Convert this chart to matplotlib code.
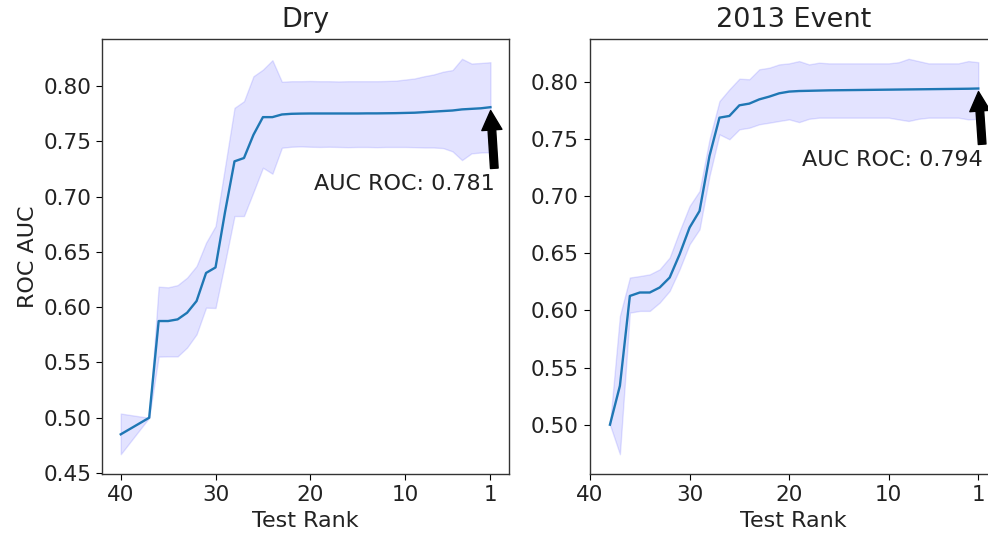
import numpy as np
import matplotlib
matplotlib.use("Agg")
import matplotlib.pyplot as plt

# Dry: mean ROC AUC per test rank, with lower / upper band
dry_rank = list(range(40, 0, -1))
dry_mean = [0.485, 0.490, 0.495, 0.500, 0.5875, 0.5875, 0.589, 0.595, 0.6056, 0.631,
            0.636, 0.686, 0.732, 0.735, 0.756, 0.772, 0.772, 0.7744, 0.7750, 0.7752,
            0.7753, 0.7753, 0.7753, 0.7753, 0.7753, 0.7753, 0.7754, 0.7754, 0.7755, 0.7756,
            0.7758, 0.7760, 0.7765, 0.7770, 0.7775, 0.7780, 0.7790, 0.7795, 0.7800, 0.781]
dry_low = [0.467, 0.478, 0.489, 0.500, 0.5553, 0.5555, 0.5555, 0.5635, 0.5755, 0.5996,
           0.5993, 0.6403, 0.6825, 0.6825, 0.7042, 0.7262, 0.7208, 0.7443, 0.7452, 0.7455,
           0.7452, 0.7450, 0.7452, 0.7450, 0.7448, 0.7450, 0.7450, 0.7448, 0.7450, 0.7450,
           0.7450, 0.7448, 0.7445, 0.7445, 0.7440, 0.7410, 0.7331, 0.7392, 0.7400, 0.7403]
dry_high = [0.5038, 0.5025, 0.5012, 0.500, 0.6186, 0.618, 0.620, 0.6268, 0.6373, 0.6584,
            0.6734, 0.7268, 0.7804, 0.7864, 0.809, 0.815, 0.8235, 0.804, 0.8045, 0.8045,
            0.8047, 0.8045, 0.8045, 0.8043, 0.8045, 0.8045, 0.8045, 0.8045, 0.8047, 0.8050,
            0.8060, 0.8070, 0.8090, 0.8106, 0.8131, 0.8146, 0.8248, 0.8205, 0.8210, 0.8217]

# 2013 Event
event_rank = list(range(38, 0, -1))
event_mean = [0.500, 0.534, 0.6126, 0.6156, 0.6156, 0.620, 0.6287, 0.649, 0.6724, 0.6869,
              0.735, 0.7685, 0.770, 0.7793, 0.7808, 0.7845, 0.7869, 0.7898, 0.7913, 0.7918,
              0.7920, 0.7922, 0.7924, 0.7925, 0.7926, 0.7927, 0.7928, 0.7929, 0.7930, 0.7931,
              0.7932, 0.7933, 0.7934, 0.7935, 0.7936, 0.7937, 0.7938, 0.794]
event_low = [0.500, 0.4742, 0.598, 0.5995, 0.5995, 0.6068, 0.617, 0.636, 0.6578, 0.6709,
             0.7175, 0.7539, 0.7496, 0.7583, 0.7597, 0.7627, 0.7641, 0.7656, 0.767, 0.7646,
             0.7675, 0.7685, 0.7685, 0.7685, 0.7685, 0.7685, 0.7685, 0.7685, 0.7685, 0.7670,
             0.7656, 0.7675, 0.7685, 0.7685, 0.7685, 0.7685, 0.7670, 0.7675]
event_high = [0.500, 0.5951, 0.6287, 0.630, 0.6315, 0.6359, 0.6462, 0.6694, 0.6913, 0.7044,
              0.7496, 0.783, 0.7933, 0.8026, 0.8021, 0.8108, 0.8122, 0.8151, 0.8160, 0.818,
              0.8151, 0.8166, 0.8160, 0.8160, 0.8160, 0.8160, 0.8160, 0.8160, 0.8160, 0.817,
              0.820, 0.818, 0.8160, 0.8160, 0.8160, 0.8160, 0.818, 0.817]

panels = [
    ("Dry", dry_rank, dry_mean, dry_low, dry_high),
    ("2013 Event", event_rank, event_mean, event_low, event_high),
]

plt.rcParams['axes.linewidth'] = 1.0
plt.rcParams['xtick.major.size'] = 4.5
plt.rcParams['ytick.major.size'] = 4.5
plt.rcParams['text.color'] = '#222222'
plt.rcParams['xtick.labelcolor'] = '#222222'
plt.rcParams['ytick.labelcolor'] = '#222222'
plt.rcParams['axes.labelcolor'] = '#222222'
plt.rcParams['axes.edgecolor'] = '#333333'

fig = plt.figure(figsize=(9.88, 5.38), dpi=100)
ax1 = fig.add_axes([0.1035, 0.119, 0.4116, 0.8085])
ax2 = fig.add_axes([0.5972, 0.119, 0.4116, 0.8085])

text_pos = [(0.55, 0.7111), (0.57, 0.7314)]

for ax, (title, rank, mean, low, high), tpos in zip([ax1, ax2], panels, text_pos):
    ax.fill_between(rank, low, high, color='b', alpha=0.11)
    ax.plot(rank, mean, color='tab:blue', lw=1.7)
    ax.set_title(title, fontsize=19.5, pad=9)
    ax.set_xlabel("Test Rank", fontsize=16)
    ax.set_xticks([40, 30, 20, 10, 1])
    ax.tick_params(labelsize=15.5)
    ax.annotate(f"AUC ROC: {mean[-1]:.3f}", xy=(1, mean[-1]), xytext=tpos,
                textcoords='data', ha='right', va='center', fontsize=16,
                arrowprops=dict(facecolor='black', width=5.5, headwidth=14.5,
                                headlength=14, shrink=0.05))

ax1.set_xlim(41.95, -0.95)
ax2.set_xlim(40, -0.85)
ax1.set_ylabel("ROC AUC", fontsize=16)

fig.savefig("out.png", dpi=100)
